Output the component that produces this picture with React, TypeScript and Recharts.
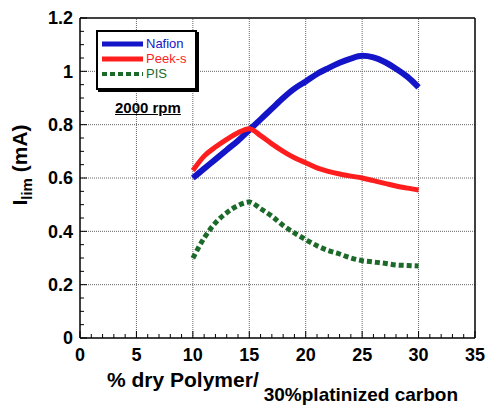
import { Line, LineChart, ReferenceLine, XAxis, YAxis } from 'recharts';

const FONT = '"Liberation Sans", Arial, sans-serif';

// % dry polymer
const polymerPct = [10, 11, 12, 13, 14, 15, 16, 17, 18, 19, 20, 21, 22, 23, 24, 25, 26, 27, 28, 29, 30];

// limiting current, mA
const nafion = [0.6, 0.635, 0.67, 0.705, 0.74, 0.78, 0.82, 0.86, 0.9, 0.935, 0.962, 0.99, 1.012, 1.032, 1.048, 1.058, 1.052, 1.035, 1.01, 0.98, 0.94];
const peekS = [0.628, 0.682, 0.716, 0.745, 0.77, 0.785, 0.759, 0.728, 0.7, 0.676, 0.657, 0.638, 0.625, 0.615, 0.607, 0.6, 0.59, 0.58, 0.57, 0.562, 0.555];
const pis = [0.299, 0.375, 0.432, 0.47, 0.497, 0.51, 0.485, 0.457, 0.422, 0.394, 0.369, 0.346, 0.328, 0.315, 0.3, 0.29, 0.285, 0.28, 0.274, 0.272, 0.27];

const xTicks = [0, 5, 10, 15, 20, 25, 30, 35];
const yTicks = [0, 0.2, 0.4, 0.6, 0.8, 1, 1.2];
const xMinorTicks = Array.from({ length: 36 }, (_, i) => i);
const yMinorTicks = Array.from({ length: 25 }, (_, i) => Number((i * 0.05).toFixed(2)));

const toPoints = (ys: number[]) => polymerPct.map((x, i) => ({ x, y: ys[i] }));

const series = [
  { name: 'Nafion', color: '#1414c8', width: 6, dash: undefined as string | undefined, data: toPoints(nafion) },
  { name: 'Peek-s', color: '#ff1e1e', width: 5, dash: undefined as string | undefined, data: toPoints(peekS) },
  { name: 'PIS', color: '#1b6a2a', width: 5, dash: '5 3', data: toPoints(pis) },
];

const frame = { stroke: '#000', strokeWidth: 1.5 };
const isMajorX = (v: number) => xTicks.includes(v);
const isMajorY = (v: number) => yTicks.some((t) => Math.abs(t - v) < 1e-6);

// tick mark pointing into the plot, with a label on majors
function BottomTick({ x, y, payload }: any) {
  const major = isMajorX(payload.value);
  return (
    <g>
      <line x1={x} y1={y} x2={x} y2={y - (major ? 7 : 4)} stroke="#000" />
      {major && (
        <text x={x} y={y + 10} dy="0.71em" textAnchor="middle" fontSize={18} fontWeight={700} fontFamily={FONT} fill="#000">
          {payload.value}
        </text>
      )}
    </g>
  );
}

function TopTick({ x, y, payload }: any) {
  const major = isMajorX(payload.value);
  return <line x1={x} y1={y} x2={x} y2={y + (major ? 7 : 4)} stroke="#000" />;
}

function LeftTick({ x, y, payload }: any) {
  const major = isMajorY(payload.value);
  return (
    <g>
      <line x1={x} y1={y} x2={x + (major ? 7 : 4)} y2={y} stroke="#000" />
      {major && (
        <text x={x - 7} y={y} dy="0.355em" textAnchor="end" fontSize={18} fontWeight={700} fontFamily={FONT} fill="#000">
          {String(payload.value)}
        </text>
      )}
    </g>
  );
}

function RightTick({ x, y, payload }: any) {
  const major = isMajorY(payload.value);
  return <line x1={x} y1={y} x2={x - (major ? 7 : 4)} y2={y} stroke="#000" />;
}

function XLabel({ viewBox }: any) {
  const { x, y } = viewBox;
  return (
    <text x={x + 27} y={y + 49} fontSize={21} fontWeight={700} fontFamily={FONT} fill="#000">
      % dry Polymer/
      <tspan dx={5} dy={14} fontSize={19}>30%platinized carbon</tspan>
    </text>
  );
}

function YLabel({ viewBox }: any) {
  const { x, y, height } = viewBox;
  const cx = x + 27;
  const cy = y + height / 2 - 13;
  return (
    <text x={cx} y={cy} transform={`rotate(-90 ${cx} ${cy})`} textAnchor="middle" fontSize={21} fontWeight={700} fontFamily={FONT} fill="#000">
      I
      <tspan dy={5} fontSize={15}>lim</tspan>
      <tspan dy={-5}> (mA)</tspan>
    </text>
  );
}

function LegendBox() {
  return (
    <div style={{ position: 'absolute', left: 96, top: 30, width: 101, height: 60, border: '2px solid #000', boxShadow: '2px 2px 0 #000', background: '#fff', padding: '4px 0 0 4px', boxSizing: 'border-box', fontSize: 13 }}>
      {series.map((s) => (
        <div key={s.name} style={{ display: 'flex', alignItems: 'center', height: 15 }}>
          <svg width={42} height={8}>
            <line x1={0} y1={4} x2={41} y2={4} stroke={s.color} strokeWidth={s.dash ? 4 : 5} strokeDasharray={s.dash} />
          </svg>
          <span style={{ color: s.color, marginLeft: 2 }}>{s.name}</span>
        </div>
      ))}
    </div>
  );
}

export default function App() {
  return (
    <div style={{ position: 'absolute', left: 0, top: 0, width: 489, height: 407, background: '#fff', fontFamily: FONT }}>
      <LineChart width={489} height={407} margin={{ top: 18, right: 14, bottom: 0, left: 0 }}>
        <XAxis
          dataKey="x"
          type="number"
          domain={[0, 35]}
          ticks={xMinorTicks}
          interval={0}
          height={69}
          tickSize={0}
          tickMargin={0}
          tickLine={false}
          axisLine={frame}
          tick={<BottomTick />}
          label={<XLabel />}
        />
        <YAxis
          type="number"
          domain={[0, 1.2]}
          ticks={yMinorTicks}
          interval={0}
          width={80}
          tickSize={0}
          tickMargin={0}
          tickLine={false}
          axisLine={frame}
          tick={<LeftTick />}
          label={<YLabel />}
        />
        <XAxis
          xAxisId="top"
          orientation="top"
          mirror
          type="number"
          dataKey="x"
          domain={[0, 35]}
          ticks={xMinorTicks}
          interval={0}
          tickSize={0}
          tickMargin={0}
          tickLine={false}
          axisLine={frame}
          tick={<TopTick />}
        />
        <YAxis
          yAxisId="right"
          orientation="right"
          mirror
          type="number"
          domain={[0, 1.2]}
          ticks={yMinorTicks}
          interval={0}
          tickSize={0}
          tickMargin={0}
          tickLine={false}
          axisLine={frame}
          tick={<RightTick />}
        />
        {xTicks.slice(1, -1).map((t) => (
          <ReferenceLine key={`gx${t}`} x={t} stroke="#666" strokeDasharray="1 1" />
        ))}
        {yTicks.slice(1, -1).map((t) => (
          <ReferenceLine key={`gy${t}`} y={t} stroke="#666" strokeDasharray="1 1" />
        ))}
        {series.map((s) => (
          <Line
            key={s.name}
            name={s.name}
            data={s.data}
            dataKey="y"
            type="monotone"
            stroke={s.color}
            strokeWidth={s.width}
            strokeDasharray={s.dash}
            dot={false}
            activeDot={false}
            isAnimationActive={false}
          />
        ))}
      </LineChart>
      <LegendBox />
      <div style={{ position: 'absolute', left: 115, top: 99, fontSize: 15, fontWeight: 700, textDecoration: 'underline', color: '#000' }}>
        2000 rpm
      </div>
    </div>
  );
}
